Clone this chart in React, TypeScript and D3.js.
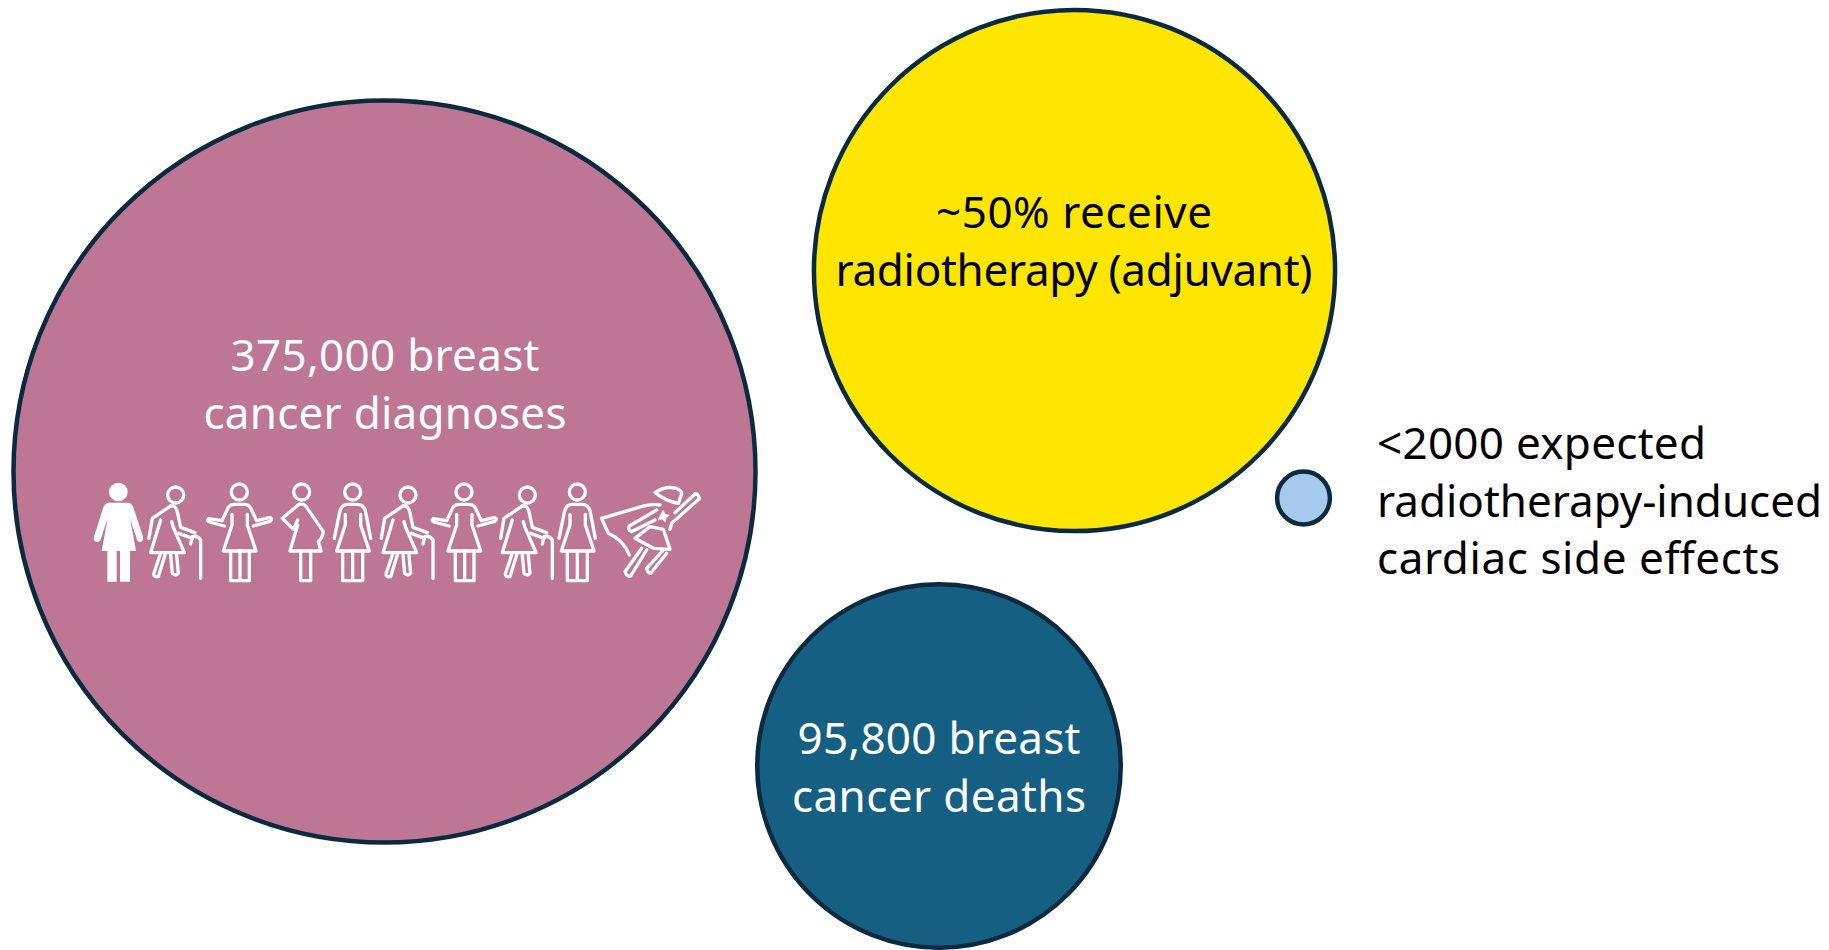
import React from "react";
import * as d3 from "d3";

// numbers as printed in the picture, "received" is the ~50% share
const bubbleNames = ["diagnoses", "radiotherapy", "deaths", "cardiac"];
const bubbleValues = [375000, 185000, 90000, 1900];
const bubbleFills = ["#BD7694", "#FFE600", "#156082", "#A6CAEC"];

const diagnosesLines = ["375,000 breast", "cancer diagnoses"];
const radiotherapyLines = ["~50% receive", "radiotherapy (adjuvant)"];
const deathsLines = ["95,800 breast", "cancer deaths"];
const cardiacLines = ["<2000 expected", "radiotherapy-induced", "cardiac side effects"];

const figureKinds = ["solid", "cane", "open", "pregnant", "plain", "cane", "open", "cane", "plain", "hero"];

const WIDTH = 1829;
const HEIGHT = 950;
const FONT = "'Noto Sans', sans-serif";
const STROKE = "#0B2A40";

const radius = d3.scaleSqrt().domain([0, 375000]).range([0, 371]);

// where each bubble sits on the page
const centers: Record<string, [number, number]> = {
  diagnoses: [384.5, 471.5],
  radiotherapy: [1074.5, 270.5],
  deaths: [939, 766],
  cardiac: [1303.5, 498],
};

// the reference is set in a font we don't have, so force each line to its measured width
const lineWidths: Record<string, number> = {
  "375,000 breast": 309,
  "cancer diagnoses": 363,
  "~50% receive": 276,
  "radiotherapy (adjuvant)": 477,
  "95,800 breast": 283,
  "cancer deaths": 294,
  "<2000 expected": 329,
  "radiotherapy-induced": 445,
  "cardiac side effects": 403,
};

// head position of each pictogram, 3x pixel units like the path data below
const figureX = [115, 287, 478, 665, 818, 984, 1152, 1342, 1492, 1560];

function Figure({ kind }: { kind: string }) {
  const line = { fill: "none", stroke: "#fff", strokeWidth: 10, strokeLinecap: "round" as const, strokeLinejoin: "round" as const };
  if (kind === "solid") {
    return (
      <g fill="#fff">
        <circle cx={0} cy={66} r={28} />
        <path d="M-28,98 L28,98 Q40,98 45,112 L74,200 Q76,214 66,216 Q58,216 55,206 L35,145 L53,243 L35,243 L35,335 L5,335 L5,243 L-5,243 L-5,335 L-33,335 L-33,243 L-50,243 L-32,145 L-52,206 Q-56,216 -66,216 Q-76,214 -73,200 L-45,112 Q-40,98 -28,98 Z" />
      </g>
    );
  }
  if (kind === "plain") {
    return (
      <g {...line}>
        <circle cx={0} cy={66} r={24} />
        <path d="M-55,205 L-38,122 Q-32,103 -14,103 L14,103 Q32,103 38,122 L54,205" />
        <path d="M-22,133 L-22,165 L-48,243 L50,243 L24,165 L24,133" />
        <path d="M-30,243 V332 H30 V243 M0,243 V332" />
      </g>
    );
  }
  if (kind === "open") {
    return (
      <g {...line}>
        <circle cx={0} cy={66} r={24} />
        <path d="M-92,148 Q-100,150 -90,156 L-45,168 M-92,146 L-52,152 L-33,112 Q-28,103 -14,103 L14,103 Q28,103 33,112 L52,152 L92,142 Q102,148 92,154 L42,168" />
        <path d="M-22,133 L-22,165 L-48,243 L50,243 L24,165 L24,133" />
        <path d="M-26,243 V332 H30 V243 M2,243 V332" />
      </g>
    );
  }
  if (kind === "pregnant") {
    return (
      <g {...line}>
        <circle cx={0} cy={66} r={24} />
        <path d="M-8,103 L-58,145 L-25,178 L-12,150" />
        <path d="M-8,103 Q8,100 15,112 L65,185 Q62,205 50,215 L58,243 L-35,243 L-12,165" />
        <path d="M-3,243 V332 H27 V243" />
      </g>
    );
  }
  if (kind === "cane") {
    return (
      <g {...line}>
        <circle cx={0} cy={75} r={24} />
        <path d="M-15,108 L-70,145 L-80,205" />
        <path d="M-15,108 Q0,105 5,125 L15,172 L58,188" />
        <path d="M-12,155 L-7,172 L26,248 L-75,248 L-45,150" />
        <path d="M-47,255 L-66,312 Q-66,322 -52,320 L-32,255 M-15,255 L-10,310 Q0,320 8,310 L3,255" />
        <path d="M45,222 L50,200 Q65,195 75,210 L75,325" />
        <path d="M10,190 L50,205" />
      </g>
    );
  }
  // hero, path data read straight off a 3x crop of the reference
  return (
    <g {...line}>
      <path d="M165,8 Q195,-12 225,-6 Q245,0 245,12 L235,40 Q200,35 165,8 Z" />
      <path d="M285,12 Q295,10 298,26 L215,100 L210,118" />
      <path d="M285,12 L225,68" />
      <path d="M5,85 L130,48 Q160,42 180,45 M5,85 L25,130 Q70,150 88,195" />
      <path d="M170,60 L88,108 Q82,118 94,125 L165,90" />
      <path d="M105,145 L150,110 L190,118 L210,178 L160,175 Z" />
      <path d="M125,175 L75,245 Q82,262 92,258 L140,180" />
      <path d="M190,180 L140,235 Q142,250 152,250 L200,190" />
      <path d="M190,62 L195,73 L208,76 L198,83 L196,96 L186,87 L174,90 L180,78 Z" fill="#fff" strokeWidth={2} />
    </g>
  );
}

function Lines({ lines, x, y, fill, anchor }: { lines: string[]; x: number; y: number; fill: string; anchor: string }) {
  return (
    <text y={y} fill={fill} fontFamily={FONT} fontSize={44} textAnchor={anchor}>
      {lines.map((l, i) => (
        <tspan key={l} x={x} dy={i === 0 ? 0 : 57.7} textLength={lineWidths[l]} lengthAdjust="spacing">
          {l}
        </tspan>
      ))}
    </text>
  );
}

export default function App() {
  return (
    <svg
      width={WIDTH}
      height={HEIGHT}
      viewBox={`0 0 ${WIDTH} ${HEIGHT}`}
      style={{ position: "absolute", left: 0, top: 0, display: "block", background: "#fff" }}
    >
      {bubbleNames.map((name, i) => (
        <circle
          key={name}
          cx={centers[name][0]}
          cy={centers[name][1]}
          r={radius(bubbleValues[i])}
          fill={bubbleFills[i]}
          stroke={STROKE}
          strokeWidth={4.5}
        />
      ))}
      <Lines lines={diagnosesLines} x={385} y={370.8} fill="#fff" anchor="middle" />
      <Lines lines={radiotherapyLines} x={1074} y={228} fill="#000" anchor="middle" />
      <Lines lines={deathsLines} x={939} y={754} fill="#fff" anchor="middle" />
      <Lines lines={cardiacLines} x={1377} y={459} fill="#000" anchor="start" />
      {figureKinds.map((kind, i) => {
        const dy = kind === "hero" ? 60 : 0;
        return (
          <g key={i} transform={`translate(${80 + figureX[i] / 3},${470 + dy / 3}) scale(${1 / 3})`}>
            <Figure kind={kind} />
          </g>
        );
      })}
    </svg>
  );
}
